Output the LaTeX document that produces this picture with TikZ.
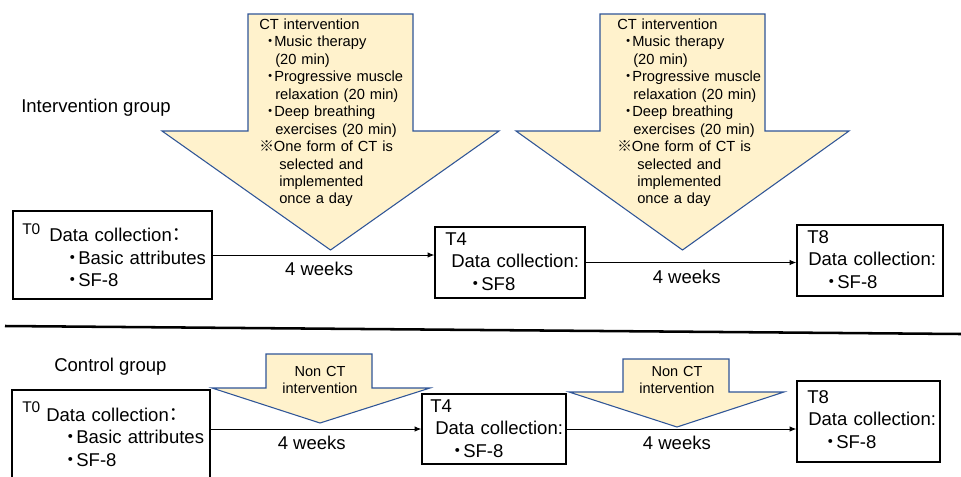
\documentclass[tikz,border=0pt]{standalone}
\usepackage{fontspec}
\setmainfont{Liberation Sans}
\newfontfamily\cjk{Noto Sans CJK JP}
\usetikzlibrary{arrows.meta}
\usepackage{xcolor}
\definecolor{ctfill}{RGB}{255,242,204}
\definecolor{ctline}{RGB}{47,85,151}
\newcommand{\jbul}{\makebox[0.55em][c]{\cjk ・}}
\newcommand{\jcolon}{\makebox[0.55em][c]{\cjk ：}}
\tikzset{
databox/.style={draw,line width=0.9pt,inner sep=0pt},
bigarrow/.style={draw=ctline,fill=ctfill,line width=0.8pt,line join=miter},
flow/.style={-{Latex[length=5pt,width=4pt]},line width=0.75pt},
boxtext/.style={anchor=base west,inner sep=0pt,align=left,text width=5cm,font=\fontsize{13.9}{16.9}\selectfont},
cttext/.style={anchor=base west,inner sep=0pt,align=left,text width=5cm,font=\fontsize{11}{13.1}\selectfont},
nontext/.style={anchor=base,inner sep=0pt,align=center,text width=3cm,font=\fontsize{10.9}{12.9}\selectfont},
tlabel/.style={anchor=base west,inner sep=0pt,font=\fontsize{11.6}{14}\selectfont},
grouplabel/.style={anchor=base west,inner sep=0pt,font=\fontsize{13.9}{16}\selectfont},
weeks/.style={below,inner sep=5pt,pos=0.48,font=\fontsize{13.9}{16}\selectfont}
}
\begin{document}
\begin{tikzpicture}[x=0.75pt,y=-0.75pt]
\useasboundingbox (0,0) rectangle (961,476);
\draw[bigarrow] (248,14) -- (413,14) -- (413,131) -- (499,131) -- (330.5,250) -- (162,131) -- (248,131) -- cycle;
\draw[bigarrow] (600,14) -- (765,14) -- (765,131) -- (849,131) -- (682.5,250) -- (516,131) -- (600,131) -- cycle;
\draw[bigarrow] (266,354) -- (372,354) -- (372,388) -- (430,388) -- (320,423) -- (212,388) -- (266,388) -- cycle;
\draw[bigarrow] (623,359) -- (729,359) -- (729,392) -- (784,392) -- (677,427) -- (569,392) -- (623,392) -- cycle;
\foreach \x/\nm in {259/ct1text,617/ct2text}{
\node[cttext] (\nm) at (\x,29.3) {CT intervention\\
\hspace*{5.2pt}\jbul Music therapy\\
\hspace*{12pt}(20 min)\\
\hspace*{5.2pt}\jbul Progressive muscle\\
\hspace*{12pt}relaxation (20 min)\\
\hspace*{5.2pt}\jbul Deep breathing\\
\hspace*{12pt}exercises (20 min)\\
{\cjk ※}One form of CT is\\
\hspace*{15pt}selected and\\
\hspace*{15pt}implemented\\
\hspace*{15pt}once a day};
}
\node[nontext] (non1text) at (320,376) {Non CT\\intervention};
\node[nontext] (non2text) at (677,376) {Non CT\\intervention};

\node[grouplabel] (intlabel) at (21,112.5) {Intervention group};
\node[grouplabel] (ctllabel) at (54,371) {Control group};

\node[databox,minimum width=149.25pt,minimum height=66pt] (t0top) at (112.5,255) {};
\node[databox,minimum width=112.5pt,minimum height=53.25pt] (t4top) at (510,262.5) {};
\node[databox,minimum width=109.5pt,minimum height=53.25pt] (t8top) at (870,260.5) {};
\node[databox,minimum width=148.5pt,minimum height=82.5pt] (t0bot) at (111,445) {};
\node[databox,minimum width=108pt,minimum height=52.5pt] (t4bot) at (494,429) {};
\node[databox,minimum width=107.25pt,minimum height=60.75pt] (t8bot) at (868.5,421.5) {};

\node[tlabel] (t0toplab) at (22,234) {T0};
\node[boxtext] (t0toptext) at (49,241.7) {Data collection\jcolon\\ \hspace*{14.1pt}\jbul Basic attributes\\ \hspace*{14.1pt}\jbul SF-8};
\node[boxtext] (t4toptext) at (445,245) {T4\\ \hspace*{4.5pt}Data collection:\\ \hspace*{19.4pt}\jbul SF8};
\node[boxtext] (t8toptext) at (807,243) {T8\\ \hspace*{0.75pt}Data collection:\\ \hspace*{14.9pt}\jbul SF-8};
\node[tlabel] (t0botlab) at (22,412) {T0};
\node[boxtext] (t0bottext) at (46,421) {Data collection\jcolon\\ \hspace*{14.9pt}\jbul Basic attributes\\ \hspace*{14.9pt}\jbul SF-8};
\node[boxtext] (t4bottext) at (430,412) {T4\\ \hspace*{3.75pt}Data collection:\\ \hspace*{17.1pt}\jbul SF-8};
\node[boxtext] (t8bottext) at (807,403) {T8\\ \hspace*{0.75pt}Data collection:\\ \hspace*{14.1pt}\jbul SF-8};

\draw[flow] (t0top.east) -- node[weeks]{4 weeks} (t0top.east -| t4top.west);
\draw[flow] (t4top.east) -- node[weeks]{4 weeks} (t4top.east -| t8top.west);
\draw[flow] (t4bot.west -| t0bot.east) -- node[weeks]{4 weeks} (t4bot.west);
\draw[flow] (t4bot.east) -- node[weeks]{4 weeks} (t4bot.east -| t8bot.west);
\draw[line width=1.9pt] (5,326) -- (961,334);
\end{tikzpicture}
\end{document}
